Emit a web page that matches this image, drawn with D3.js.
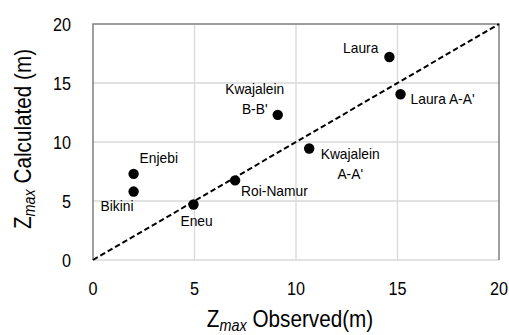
<!DOCTYPE html>
<html>
<head>
<meta charset="utf-8">
<script src="https://cdn.jsdelivr.net/npm/d3@7"></script>
<style>
  body { margin: 0; background: #fff; }
  svg { display: block; }
  text { font-family: "Liberation Sans", Arial, sans-serif; fill: #000; }
</style>
</head>
<body>
<svg id="Chart"></svg>
<script>
// data
let sites = ["Laura", "Laura A-A'", "Kwajalein B-B'", "Kwajalein A-A'", "Roi-Namur", "Eneu", "Enjebi", "Bikini"]
let observed = [14.6, 15.15, 9.1, 10.65, 7.0, 4.95, 2.0, 2.0]
let calculated = [17.2, 14.05, 12.3, 9.45, 6.75, 4.7, 7.3, 5.8]
let ticks = [0, 5, 10, 15, 20]
let oneToOne = [0, 20]

// label placement (px from the point), lines split on "\n"
let labelText = ["Laura", "Laura A-A'", "Kwajalein\nB-B'", "Kwajalein\nA-A'", "Roi-Namur", "Eneu", "Enjebi", "Bikini"]
let labelDx = [-11, 10, -23, 41, 6, -13, 6, -33]
let labelDy = [-4, 10, -21, 11, 16, 21, -11, 19]
let labelAnchor = ["end", "start", "middle", "middle", "start", "start", "start", "start"]

let config = {}

function initConfig() {
    let width = 509
    let height = 335
    let margin = {left: 93, right: 10, top: 24, bottom: 75}
    let container = d3.select("#Chart")
        .attr("width", width)
        .attr("height", height)
    let x = d3.scaleLinear().domain([0, 20]).range([margin.left, width - margin.right])
    let y = d3.scaleLinear().domain([0, 20]).range([height - margin.bottom, margin.top])
    let squeeze = 0.9 // text in the picture is a bit narrow
    config = {width, height, margin, container, x, y, squeeze}
}

function squeezed(sel, px, py, s) {
    sel.attr("transform", `translate(${px},${py}) scale(${s || config.squeeze},1)`)
}

function drawGrid() {
    let {container, x, y} = config
    let g = container.append("g")
    g.selectAll(".vgrid").data(ticks.slice(1, -1)).enter().append("line")
        .attr("x1", d => x(d)).attr("x2", d => x(d))
        .attr("y1", y(0)).attr("y2", y(20))
        .attr("stroke", "#d9d9d9").attr("stroke-width", 1.3)
    g.selectAll(".hgrid").data(ticks.slice(0, -1)).enter().append("line")
        .attr("x1", x(0)).attr("x2", x(20))
        .attr("y1", d => y(d)).attr("y2", d => y(d))
        .attr("stroke", "#d9d9d9").attr("stroke-width", 1.3)
    // frame: top, left, right
    g.append("path")
        .attr("d", `M${x(0)},${y(0)}V${y(20)}H${x(20)}V${y(0)}`)
        .attr("fill", "none").attr("stroke", "#7f7f7f").attr("stroke-width", 1.5)
}

function drawAxes() {
    let {container, x, y} = config
    container.selectAll(".xtick").data(ticks).enter().append("text")
        .attr("text-anchor", "middle")
        .attr("font-size", "18px")
        .each(function(d) { squeezed(d3.select(this), x(d), 295) })
        .text(d => d)
    container.selectAll(".ytick").data(ticks).enter().append("text")
        .attr("text-anchor", "end")
        .attr("font-size", "18px")
        .each(function(d) { squeezed(d3.select(this), 71, y(d) + 6.5) })
        .text(d => d)

    let xt = container.append("text")
        .attr("text-anchor", "middle")
        .attr("font-size", "23px")
        .attr("transform", `translate(290,327) scale(${config.squeeze},1)`)
    xt.append("tspan").text("Z")
    xt.append("tspan").attr("font-style", "italic").attr("font-size", "16px").attr("dy", 4).text("max")
    xt.append("tspan").attr("dy", -4).text(" Observed(m)")

    let yt = container.append("text")
        .attr("text-anchor", "middle")
        .attr("font-size", "23px")
        .attr("transform", `translate(31,139) scale(1,${config.squeeze}) rotate(-90)`)
    yt.append("tspan").text("Z")
    yt.append("tspan").attr("font-style", "italic").attr("font-size", "16px").attr("dy", 4).text("max")
    yt.append("tspan").attr("dy", -4).text(" Calculated (m)")
}

function drawData() {
    let {container, x, y} = config
    let line = d3.line().x(d => x(d)).y(d => y(d))
    container.append("path")
        .attr("d", line(oneToOne))
        .attr("fill", "none")
        .attr("stroke", "#000")
        .attr("stroke-width", 2)
        .attr("stroke-dasharray", "5.5,3")

    container.selectAll(".pt").data(sites).enter().append("circle")
        .attr("cx", (d, i) => x(observed[i]))
        .attr("cy", (d, i) => y(calculated[i]))
        .attr("r", 5.2)
        .attr("fill", "#000")

    sites.forEach((s, i) => {
        let lines = labelText[i].split("\n")
        let t = container.append("text")
            .attr("text-anchor", labelAnchor[i])
            .attr("font-size", "15px")
        squeezed(t, x(observed[i]) + labelDx[i], y(calculated[i]) + labelDy[i], 0.92)
        lines.forEach((l, j) => {
            t.append("tspan")
                .attr("x", 0)
                .attr("dy", j == 0 ? 0 : 20)
                .text(l)
        })
    })
}

initConfig()
drawGrid()
drawData()
drawAxes()
</script>
</body>
</html>
